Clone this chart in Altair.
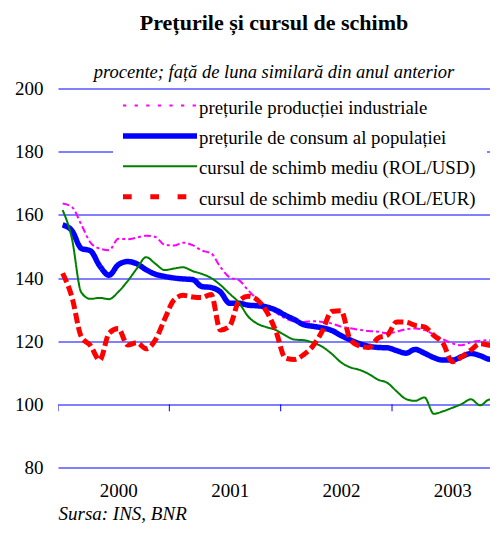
import json
import altair as alt
import pandas as pd

years = ["2000", "2001", "2002", "2003"]
series = [
    "prețurile producției industriale",
    "prețurile de consum al populației",
    "cursul de schimb mediu (ROL/USD)",
    "cursul de schimb mediu (ROL/EUR)",
]
ipi = [163.6, 162.5, 157.0, 151.2, 149.3, 148.8, 152.4, 152.3, 152.8, 153.4, 153.0, 150.5,
       150.3, 151.2, 150.4, 148.7, 147.8, 143.5, 140.2, 139.3, 136.1, 133.2, 131.0, 129.0,
       127.2, 126.3, 126.1, 126.3, 126.1, 125.6, 124.6, 124.1, 123.6, 123.2, 123.0, 122.5,
       123.0, 123.8, 124.0, 123.5, 122.1, 120.6, 119.3, 118.7, 119.7, 120.1, 120.3, 120.3]
ipc = [156.8, 155.0, 149.4, 148.6, 143.8, 140.9, 144.2, 145.2, 144.5, 142.6, 141.2, 140.5,
       140.0, 139.7, 139.5, 137.3, 137.0, 135.6, 132.0, 132.0, 131.4, 131.2, 130.8, 129.8,
       128.2, 126.8, 125.2, 124.7, 124.2, 123.4, 121.8, 120.4, 119.2, 118.4, 118.0, 117.9,
       117.0, 116.2, 117.4, 116.2, 114.8, 114.0, 114.0, 115.1, 116.1, 115.4, 114.3, 114.2]
usd = [161.5, 152.5, 135.5, 133.4, 133.7, 133.3, 135.6, 139.0, 143.0, 146.6, 144.5, 142.5,
       143.0, 143.4, 142.2, 141.3, 140.0, 137.8, 135.0, 132.2, 127.8, 125.5, 124.4, 123.5,
       121.8, 120.5, 120.3, 119.5, 118.2, 116.0, 113.3, 111.7, 110.9, 109.6, 107.8, 106.8,
       104.1, 101.7, 101.1, 102.2, 97.0, 97.8, 98.9, 100.1, 101.6, 99.7, 101.5, 98.6]
eur = [141.5, 134.0, 121.5, 118.6, 114.0, 122.5, 124.0, 118.8, 119.5, 117.6, 120.4, 127.0,
       133.0, 134.5, 134.0, 133.8, 134.8, 123.5, 124.8, 132.7, 134.2, 133.0, 129.3, 123.0,
       114.7, 114.2, 115.8, 118.6, 123.3, 129.4, 129.6, 120.5, 118.5, 118.0, 121.0, 121.9,
       126.1, 126.0, 125.0, 124.5, 121.8, 119.3, 113.5, 115.0, 117.2, 119.2, 118.7, 118.4]
y_ticks = [80, 100, 120, 140, 160, 180, 200]
year_bounds = [-0.5, 11.5, 23.5, 35.5, 47.5]
year_mid = [6, 18, 30, 42]

colors = ["#FF00FF", "#0000FF", "#008000", "#FF0000"]
chart_dash = [[7, 3, 3, 3], [1, 0], [1, 0], [10, 4]]
legend_dash = [[3.3, 8.3], [1, 0], [1, 0], [8.7, 18.6]]
widths = [2, 5.5, 2, 5]
interp = ["monotone", "monotone", "monotone", "monotone"]

FONT = "Liberation Serif"

values = [ipi, ipc, usd, eur]
frames = []
for s, vals in zip(series, values):
    frames.append(pd.DataFrame({"idx": list(range(len(vals))), "serie": s, "val": vals}))

# axis tick marks hanging from the 100 line at the year boundaries
ticks_df = pd.DataFrame({"idx": year_bounds, "val": [100] * len(year_bounds),
                         "val2": [97.8] * len(year_bounds)})

color_scale = alt.Scale(domain=series, range=colors)

x_enc = alt.X(
    "idx:Q",
    scale=alt.Scale(domain=[-0.5, 46.06], nice=False, zero=False),
    axis=alt.Axis(
        values=year_mid, labelExpr=f"{json.dumps(years)}[floor(datum.value/12)]",
        ticks=False, domain=False, grid=False, labelFont=FONT, labelFontSize=19,
        labelColor="black", labelPadding=14, labelFlush=False, labelOverlap=False,
        titleFont=FONT, titleFontSize=19, titleFontStyle="italic", titleFontWeight="normal",
        titleAnchor="start", titleAlign="left", titlePadding=4, titleColor="black",
    ),
    title="Sursa: INS, BNR",
)
y_enc = alt.Y(
    "val:Q",
    scale=alt.Scale(domain=[80, 200], nice=False, zero=False),
    axis=alt.Axis(
        values=y_ticks, grid=True, gridColor="#0000FF", gridWidth=1, gridOpacity=1,
        domain=False, ticks=False, labelFont=FONT, labelFontSize=19, labelColor="black",
        labelPadding=15, title=None,
    ),
    title=None,
)

layers = []
for f, d, w, ip in zip(frames, chart_dash, widths, interp):
    layers.append(
        alt.Chart(f).mark_line(strokeDash=d, strokeWidth=w, interpolate=ip, clip=True).encode(
            x=x_enc, y=y_enc, color=alt.Color("serie:N", scale=color_scale, legend=None)
        )
    )

layers.append(
    alt.Chart(ticks_df).mark_rule(color="#0000FF", strokeWidth=1, clip=True).encode(
        x=x_enc, y=y_enc, y2="val2:Q"
    )
)

# legend, drawn inside the plot area (pixel layout relative to the plot)
LEG_BOX = (55, 429, 3, 123)
SYM_X = (65, 139)
LABEL_X = 141
ROW0_SYM, ROW0_TXT, ROW_STEP = 17, 25, 30.4

box_df = pd.DataFrame({"k": [0]})
layers.append(
    alt.Chart(box_df).mark_rect(color="white").encode(
        x=alt.value(LEG_BOX[0]), x2=alt.value(LEG_BOX[1]),
        y=alt.value(LEG_BOX[2]), y2=alt.value(LEG_BOX[3]),
    )
)
for k, (s, d, w) in enumerate(zip(series, legend_dash, widths)):
    row_df = pd.DataFrame({"serie": [s]})
    layers.append(
        alt.Chart(row_df).mark_rule(strokeDash=d, strokeWidth=w).encode(
            x=alt.value(SYM_X[0]), x2=alt.value(SYM_X[1]),
            y=alt.value(ROW0_SYM + ROW_STEP * k),
            color=alt.Color("serie:N", scale=color_scale, legend=None),
        )
    )
    layers.append(
        alt.Chart(row_df).mark_text(
            align="left", baseline="alphabetic", font=FONT, fontSize=18.8, color="black"
        ).encode(
            x=alt.value(LABEL_X), y=alt.value(ROW0_TXT + ROW_STEP * k), text="serie:N"
        )
    )

chart = alt.layer(*layers).properties(
    width=432,
    height=379,
    padding={"left": 6, "top": 3.5, "right": 0, "bottom": 0.5},
    title=alt.TitleParams(
        text="Prețurile și cursul de schimb",
        subtitle="procente; față de luna similară din anul anterior",
        font=FONT, fontSize=22, fontWeight="bold", color="black",
        subtitleFont=FONT, subtitleFontSize=18.5, subtitleFontStyle="italic",
        subtitleColor="black", subtitlePadding=28, offset=-3, anchor="middle",
    ),
).configure(font=FONT, view=alt.ViewConfig(stroke=None))

chart.save("out.html", embed_options={"renderer": "svg", "actions": False})
